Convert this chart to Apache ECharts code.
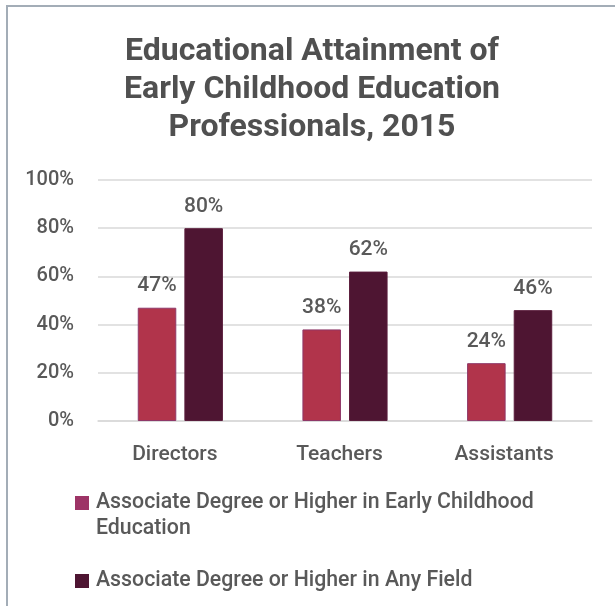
<!DOCTYPE html>
<html>
<head>
<meta charset="utf-8">
<script src="https://cdn.jsdelivr.net/npm/echarts@6/dist/echarts.min.js"></script>
<style>
  html, body { margin: 0; padding: 0; background: #ffffff; }
  #wrap { position: relative; width: 615px; height: 606px; overflow: hidden; }
  #chart { position: absolute; left: 0; top: 0; width: 615px; height: 606px; }
  .frame-top { position: absolute; left: 6px; top: 5px; width: 609px; height: 2px; background: #a3adb7; }
  .frame-left { position: absolute; left: 6px; top: 5px; width: 2px; height: 601px; background: #a3adb7; }
</style>
</head>
<body>
<div id="wrap">
  <div id="chart"></div>
  <div class="frame-top"></div>
  <div class="frame-left"></div>
</div>
<script>
// Share of early childhood education staff with an associate degree or higher
const titleText = 'Educational Attainment of\nEarly Childhood Education\nProfessionals, 2015';
const categories = ['Directors', 'Teachers', 'Assistants'];
const seriesNames = [
  'Associate Degree or Higher in Early Childhood Education',
  'Associate Degree or Higher in Any Field'
];
const ecePercent = [47, 38, 24];
const anyFieldPercent = [80, 62, 46];
const yTicks = [0, 20, 40, 60, 80, 100];

const textColor = '#595959';
const font = 'Roboto';

const chart = echarts.init(document.getElementById('chart'), null, { renderer: 'canvas' });

// The first legend entry wraps onto two lines; an empty leading line keeps
// the wrapped text's first line level with its colour square.
chart.setOption({
  backgroundColor: '#ffffff',
  animation: false,
  title: {
    text: titleText,
    left: 307,
    top: 28,
    textAlign: 'center',
    textStyle: {
      fontFamily: font,
      fontSize: 32,
      fontWeight: 'bold',
      color: '#505050',
      lineHeight: 38
    }
  },
  legend: [
    {
      orient: 'vertical',
      left: 70,
      top: 459,
      itemWidth: 14,
      itemHeight: 14,
      icon: 'rect',
      data: [{ name: seriesNames[0], itemStyle: { color: '#9d3466', borderWidth: 0 } }],
      formatter: () => '\nAssociate Degree or Higher in Early Childhood\nEducation',
      textStyle: {
        fontFamily: font,
        fontSize: 21.3,
        fontWeight: 500,
        color: textColor,
        lineHeight: 26,
        padding: [0, 0, 0, 2]
      },
      selectedMode: false
    },
    {
      orient: 'vertical',
      left: 70,
      top: 563,
      itemWidth: 14,
      itemHeight: 14,
      icon: 'rect',
      data: [{ name: seriesNames[1], itemStyle: { color: '#4e1532', borderWidth: 0 } }],
      textStyle: {
        fontFamily: font,
        fontSize: 21.3,
        fontWeight: 500,
        color: textColor,
        lineHeight: 26,
        padding: [0, 0, 0, 2]
      },
      selectedMode: false
    }
  ],
  grid: {
    left: 98,
    right: 23,
    top: 180,
    bottom: 185,
    containLabel: false
  },
  xAxis: {
    type: 'category',
    data: categories,
    axisTick: { show: false },
    axisLine: { lineStyle: { color: '#d9d9d9', width: 1.5 } },
    axisLabel: {
      margin: 23,
      fontFamily: font,
      fontSize: 21,
      fontWeight: 500,
      color: textColor,
      padding: [0, 11, 0, 0]
    }
  },
  yAxis: {
    type: 'value',
    min: yTicks[0],
    max: yTicks[yTicks.length - 1],
    interval: 20,
    axisLine: { show: false },
    axisTick: { show: false },
    splitLine: { lineStyle: { color: '#d9d9d9', width: 1.5 } },
    axisLabel: {
      margin: 24,
      fontFamily: font,
      fontSize: 20,
      fontWeight: 500,
      color: textColor,
      formatter: v => v + '%'
    }
  },
  series: [
    {
      name: seriesNames[0],
      type: 'bar',
      data: ecePercent,
      barWidth: '23.4%',
      barGap: '21%',
      itemStyle: { color: '#b1344b', borderColor: '#8f3868', borderWidth: 1 },
      label: {
        show: true,
        position: 'top',
        distance: 11,
        fontFamily: font,
        fontSize: 21,
        fontWeight: 500,
        color: textColor,
        formatter: p => p.value + '%'
      }
    },
    {
      name: seriesNames[1],
      type: 'bar',
      data: anyFieldPercent,
      barWidth: '23.4%',
      barGap: '21%',
      itemStyle: { color: '#4e1532', borderColor: '#5a1d3c', borderWidth: 1 },
      label: {
        show: true,
        position: 'top',
        distance: 11,
        fontFamily: font,
        fontSize: 21,
        fontWeight: 500,
        color: textColor,
        formatter: p => p.value + '%'
      }
    }
  ]
});
</script>
</body>
</html>
